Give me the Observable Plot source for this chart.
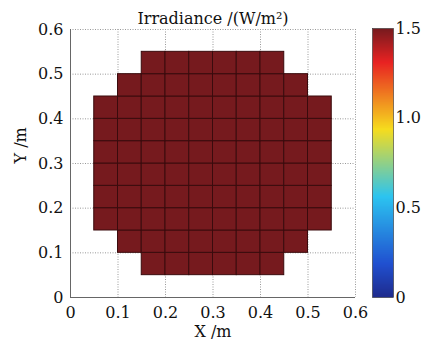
<!DOCTYPE html>
<html><head><meta charset="utf-8">
<script src="https://cdn.jsdelivr.net/npm/d3@7"></script>
<script src="https://cdn.jsdelivr.net/npm/@observablehq/plot@0.6"></script>
<style>
body{margin:0;background:#fff}
#wrap{position:relative;width:421px;height:343px;overflow:hidden}
#wrap svg{position:absolute;left:0;top:0;background:transparent;overflow:visible}
</style></head><body><div id="wrap"></div>
<script>
// ---- data ----
const cellSize = 0.05;
const rowY = [0.05, 0.10, 0.15, 0.20, 0.25, 0.30, 0.35, 0.40, 0.45, 0.50];   // lower edge of each row
const rowXStart = [0.15, 0.10, 0.05, 0.05, 0.05, 0.05, 0.05, 0.05, 0.10, 0.15];
const rowValues = [
  [1.5, 1.5, 1.5, 1.5, 1.5, 1.5],
  [1.5, 1.5, 1.5, 1.5, 1.5, 1.5, 1.5, 1.5],
  [1.5, 1.5, 1.5, 1.5, 1.5, 1.5, 1.5, 1.5, 1.5, 1.5],
  [1.5, 1.5, 1.5, 1.5, 1.5, 1.5, 1.5, 1.5, 1.5, 1.5],
  [1.5, 1.5, 1.5, 1.5, 1.5, 1.5, 1.5, 1.5, 1.5, 1.5],
  [1.5, 1.5, 1.5, 1.5, 1.5, 1.5, 1.5, 1.5, 1.5, 1.5],
  [1.5, 1.5, 1.5, 1.5, 1.5, 1.5, 1.5, 1.5, 1.5, 1.5],
  [1.5, 1.5, 1.5, 1.5, 1.5, 1.5, 1.5, 1.5, 1.5, 1.5],
  [1.5, 1.5, 1.5, 1.5, 1.5, 1.5, 1.5, 1.5],
  [1.5, 1.5, 1.5, 1.5, 1.5, 1.5]
];
const xTicks = [0, 0.1, 0.2, 0.3, 0.4, 0.5, 0.6];
const yTicks = [0, 0.1, 0.2, 0.3, 0.4, 0.5, 0.6];
const tickLabels = ["0", "0.1", "0.2", "0.3", "0.4", "0.5", "0.6"];
const colorTicks = [0, 0.5, 1.0, 1.5];
const colorTickLabels = ["0", "0.5", "1.0", "1.5"];
const colorStops = [0, 0.1875, 0.5625, 0.9375, 1.3125, 1.5];
const colorRange = ["#1e2b8c", "#2050d0", "#2cc4f0", "#f6dc1e", "#e82222", "#761a1e"];
const titleText = "Irradiance /(W/m²)";
const xLabel = ["X", " /m"];
const yLabel = ["Y", " /m"];

// ---- table ----
const cells = rowY.flatMap((y, i) => rowValues[i].map((v, j) => {
  const x = rowXStart[i] + j * cellSize;
  return {x1: x, x2: x + cellSize, y1: y, y2: y + cellSize, value: v};
}));

const font = "DejaVu Serif";
const fs = 16;
const colorScale = {type: "linear", domain: colorStops, range: colorRange, interpolate: "rgb"};
const fmt = (ticks, labels) => d => labels[ticks.findIndex(t => Math.abs(t - d) < 1e-9)];

const main = Plot.plot({
  width: 421, height: 343,
  marginLeft: 70, marginRight: 66, marginTop: 29, marginBottom: 46,
  x: {domain: [0, 0.6]}, y: {domain: [0, 0.6]},
  color: colorScale,
  style: {fontFamily: font, fontSize: fs + "px", color: "#111", background: "transparent"},
  marks: [
    Plot.ruleX(xTicks, {stroke: "#999", strokeDasharray: "1,1.5", strokeWidth: 1}),
    Plot.ruleY(yTicks, {stroke: "#999", strokeDasharray: "1,1.5", strokeWidth: 1}),
    Plot.rect(cells, {x1: "x1", x2: "x2", y1: "y1", y2: "y2", fill: "value", stroke: "#3a0b0d", strokeWidth: 1}),
    Plot.ruleX([0], {stroke: "#666", strokeWidth: 1}),
    Plot.ruleY([0], {stroke: "#666", strokeWidth: 1}),
    Plot.axisX({ticks: xTicks, tickSize: 0, tickPadding: 9, tickFormat: fmt(xTicks, tickLabels), label: null, fontSize: fs}),
    Plot.axisY({ticks: yTicks, tickSize: 0, tickPadding: 7, tickFormat: fmt(yTicks, tickLabels), label: null, fontSize: fs}),
    Plot.text([titleText], {frameAnchor: "top", lineAnchor: "bottom", dy: -6, fontSize: fs, fill: "#111"}),
    Plot.text([xLabel.join("")], {frameAnchor: "bottom", lineAnchor: "middle", dy: 34, fontSize: fs, fill: "#111", ariaLabel: "xlabel"}),
    Plot.text([yLabel.join("")], {frameAnchor: "left", lineAnchor: "middle", rotate: -90, dx: -50, fontSize: fs, fill: "#111", ariaLabel: "ylabel"})
  ]
});

const bar = Plot.plot({
  width: 421, height: 343,
  marginLeft: 372, marginRight: 28, marginTop: 28, marginBottom: 46,
  x: {domain: [0, 1], axis: null},
  y: {domain: [0, 1.5]},
  color: colorScale,
  style: {fontFamily: font, fontSize: fs + "px", color: "#111", background: "transparent", overflow: "visible"},
  marks: [
    Plot.raster({fill: (x, y) => y, x1: 0, x2: 1, y1: 0, y2: 1.5, width: 1, height: 300, imageRendering: "auto"}),
    Plot.frame({stroke: "#333", strokeWidth: 0.6}),
    Plot.axisY({anchor: "right", ticks: colorTicks, tickSize: 0, tickPadding: 2, tickFormat: fmt(colorTicks, colorTickLabels), label: null, fontSize: fs})
  ]
});

const wrap = document.getElementById("wrap");
wrap.appendChild(main);
wrap.appendChild(bar);

// italic variable letters in axis labels
function italicize(sel, parts) {
  const t = d3.select(main).select(`g[aria-label="${sel}"] text`);
  t.text(null);
  t.append("tspan").attr("font-style", "italic").text(parts[0]);
  t.append("tspan").text(parts[1]);
}
italicize("xlabel", xLabel);
italicize("ylabel", yLabel);
</script>
</body></html>
